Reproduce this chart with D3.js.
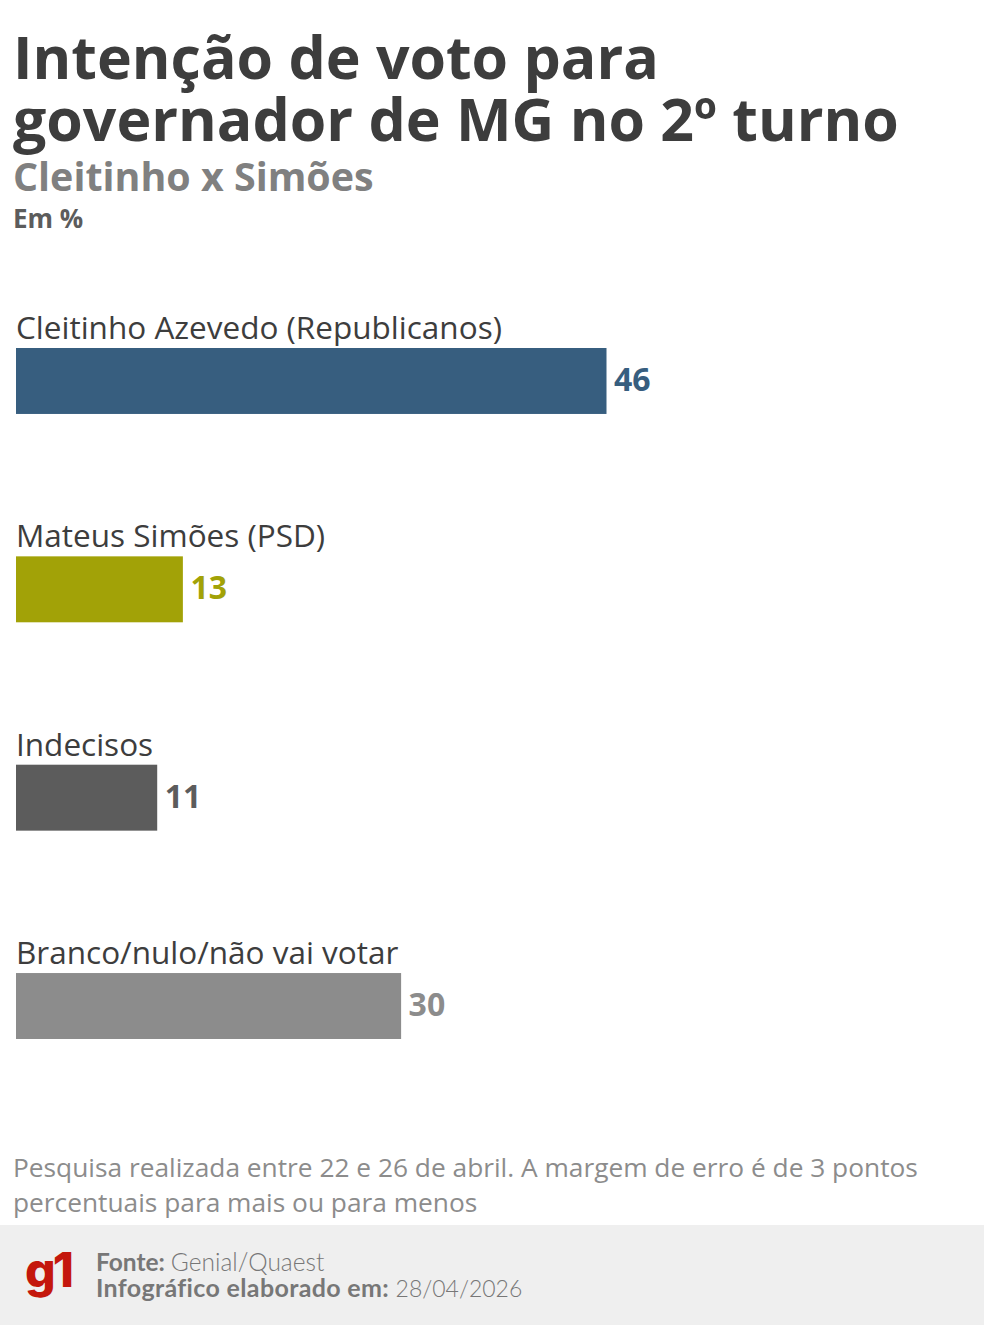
<!DOCTYPE html>
<html>
<head>
<meta charset="utf-8">
<script src="https://cdn.jsdelivr.net/npm/d3@7"></script>
<style>
  html, body { margin: 0; padding: 0; background: #fff; }
  svg { display: block; }
  text { font-family: "Open Sans", sans-serif; font-variant-ligatures: none; }
</style>
</head>
<body>
<div id="root"></div>
<script>
var categories = ["Cleitinho Azevedo (Republicanos)", "Mateus Simões (PSD)", "Indecisos", "Branco/nulo/não vai votar"];
var values = [46, 13, 11, 30];
var barColors = ["#375e7f", "#a2a207", "#5c5c5c", "#8c8c8c"];
var titleLines = ["Intenção de voto para", "governador de MG no 2º turno"];
var noteLines = ["Pesquisa realizada entre 22 e 26 de abril. A margem de erro é de 3 pontos", "percentuais para mais ou para menos"];

var w = 984;
var h = 1325;
var svg = d3.select("#root").append("svg").attr("width", w).attr("height", h);

// scales
var xScale = d3.scaleLinear().domain([0, 46]).range([16, 606.5]);
var yScale = d3.scaleBand().domain(categories).range([348, 1039]).paddingInner(142.5 / 66 / (1 + 142.5 / 66));

// header
svg.selectAll(".title").data(titleLines).enter().append("text")
  .attr("class", "title")
  .attr("x", 13)
  .attr("y", function(d, i) { return 79 + i * 62; })
  .attr("font-size", "59px").attr("font-weight", 700).attr("fill", "#3d3d3d")
  .text(function(d) { return d; });
svg.append("text").attr("x", 13).attr("y", 191).attr("font-size", "39.4px").attr("font-weight", 700).attr("fill", "#808080").text("Cleitinho x Simões");
svg.append("text").attr("x", 13).attr("y", 228).attr("font-size", "26px").attr("font-weight", 700).attr("fill", "#5c5c5c").text("Em %");

// bars
svg.selectAll(".bar").data(categories).enter().append("rect")
  .attr("class", "bar")
  .attr("x", xScale(0))
  .attr("y", function(d) { return yScale(d); })
  .attr("width", function(d, i) { return xScale(values[i]) - xScale(0); })
  .attr("height", yScale.bandwidth())
  .attr("fill", function(d, i) { return barColors[i]; });

// category labels
svg.selectAll(".cat").data(categories).enter().append("text")
  .attr("class", "cat")
  .attr("x", 16)
  .attr("y", function(d) { return yScale(d) - 9; })
  .attr("font-size", "31.5px").attr("fill", "#3d3d3d")
  .text(function(d) { return d; });

// value labels
svg.selectAll(".val").data(categories).enter().append("text")
  .attr("class", "val")
  .attr("x", function(d, i) { return xScale(values[i]) + 7.5; })
  .attr("y", function(d) { return yScale(d) + 43; })
  .attr("font-size", "32px").attr("font-weight", 700)
  .attr("fill", function(d, i) { return barColors[i]; })
  .text(function(d, i) { return values[i]; });

// note
svg.selectAll(".note").data(noteLines).enter().append("text")
  .attr("class", "note")
  .attr("x", 13)
  .attr("y", function(d, i) { return 1177 + i * 35; })
  .attr("font-size", "26.3px").attr("fill", "#8c8c8c")
  .text(function(d) { return d; });

// footer
svg.append("rect").attr("x", 0).attr("y", 1225).attr("width", w).attr("height", 100).attr("fill", "#efefef");
svg.append("text").attr("x", 25).attr("y", 1287).attr("font-size", "48px").attr("font-weight", 800).attr("letter-spacing", "-3px")
  .style("font-family", "Inter, sans-serif").attr("fill", "#c4170c").text("g1");

var f1 = svg.append("text").attr("x", 96).attr("y", 1271).attr("font-size", "24.5px").style("font-family", "Lato, sans-serif").attr("fill", "#777");
f1.append("tspan").attr("font-weight", 700).text("Fonte: ");
f1.append("tspan").attr("font-weight", 300).text("Genial/Quaest");
var f2 = svg.append("text").attr("x", 96).attr("y", 1297).attr("font-size", "25px").style("font-family", "Lato, sans-serif").attr("fill", "#777");
f2.append("tspan").attr("font-weight", 700).attr("letter-spacing", "0.35px").text("Infográfico elaborado em: ");
f2.append("tspan").attr("font-weight", 300).attr("font-size", "23px").text("28/04/2026");
</script>
</body>
</html>
